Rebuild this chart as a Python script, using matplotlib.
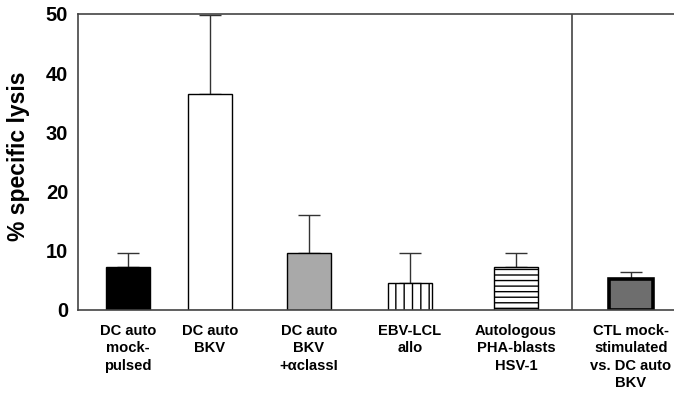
import matplotlib
matplotlib.use('Agg')
import matplotlib.pyplot as plt

plt.rcParams['font.family'] = ['Liberation Sans', 'DejaVu Sans']
plt.rcParams['hatch.linewidth'] = 1.0

labels = ['DC auto\nmock-\npulsed', 'DC auto\nBKV', 'DC auto\nBKV\n+\u03b1classI',
          'EBV-LCL\nallo', 'Autologous\nPHA-blasts\nHSV-1',
          'CTL mock-\nstimulated\nvs. DC auto\nBKV']
lysis = [7.3, 36.5, 9.7, 4.6, 7.2, 5.2]
sd = [2.4, 13.3, 6.4, 5.1, 2.5, 1.2]

# bar centres along the axis
xpos = [0, 0.82, 1.81, 2.82, 3.88, 5.03]
fills = ['black', 'white', '#a9a9a9', 'white', 'white', '#6e6e6e']
hatches = [None, None, None, '||', '---', None]
edge_w = [1.0, 1.0, 1.0, 1.0, 1.0, 2.6]

fig = plt.figure(figsize=(6.74, 3.93), dpi=100)
ax = fig.add_axes([0.1157, 0.2112, 0.8843, 0.7532])

for x, v, e, c, h, lw in zip(xpos, lysis, sd, fills, hatches, edge_w):
    ax.bar(x, v, width=0.44, color=c, edgecolor='black', hatch=h,
           linewidth=lw, zorder=2)
    ax.errorbar(x, v, yerr=[[0], [e]], fmt='none', ecolor='#333333',
                elinewidth=1.0, capsize=8, capthick=1.0, zorder=1)

# separator between targets and the control
ax.axvline(4.44, color='#444444', lw=1.2)

ax.set_xlim(-0.5, 5.46)
ax.set_ylim(0, 50)
ax.set_yticks([0, 10, 20, 30, 40, 50])
ax.set_xticks(xpos)
ax.set_xticklabels(labels, fontsize=10.6, fontweight='bold', linespacing=1.32)
ax.tick_params(axis='y', length=0, pad=7, labelsize=14.5)
ax.tick_params(axis='x', length=0, pad=10)
for t in ax.get_yticklabels():
    t.set_fontweight('bold')
ax.set_ylabel('% specific lysis', fontsize=16.5, fontweight='bold')
ax.yaxis.set_label_coords(-0.08, 0.52)

for s in ['left', 'top', 'bottom']:
    ax.spines[s].set_color('#444444')
    ax.spines[s].set_linewidth(1.2)
ax.spines['right'].set_visible(False)

fig.savefig('out.png', dpi=100)
